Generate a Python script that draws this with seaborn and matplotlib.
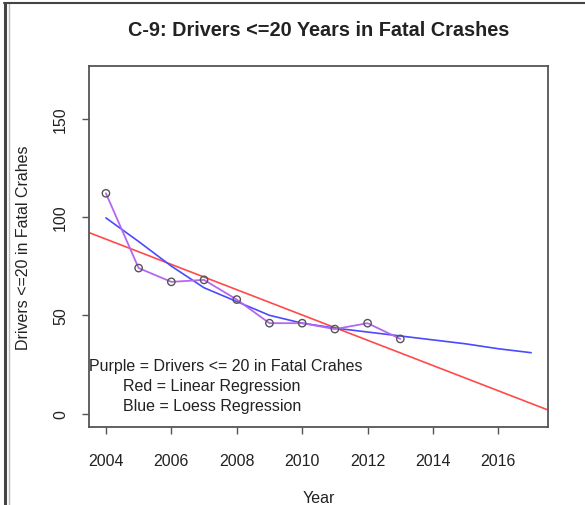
import numpy as np
import pandas as pd
import seaborn as sns
import matplotlib.pyplot as plt
from matplotlib.lines import Line2D

years = [2004, 2005, 2006, 2007, 2008, 2009, 2010, 2011, 2012, 2013]
drivers = [112, 74, 67, 68, 58, 46, 46, 43, 46, 38]

# loess curve (2004..2017)
loess_years = list(range(2004, 2018))
loess_vals = [99.5, 87.5, 75, 64, 57, 50, 46, 43.5, 41.5, 39.5, 37.5, 35.5, 33, 31]

x_ticks = [2004, 2006, 2008, 2010, 2012, 2014, 2016]
y_ticks = [0, 50, 100, 150]

df = pd.DataFrame({"Year": years, "Drivers": drivers})
lo = pd.DataFrame({"Year": loess_years, "Fit": loess_vals})

sns.set_style("white")
plt.rcParams["font.family"] = ["Liberation Sans", "DejaVu Sans"]

fig = plt.figure(figsize=(5.85, 5.06), dpi=100)
ax = fig.add_axes([0.152, 0.154, 0.785, 0.714])

ax.set_xlim(2003.48, 2017.52)
ax.set_ylim(-6.8, 176.8)

sns.regplot(data=df, x="Year", y="Drivers", ci=None, scatter=False,
            truncate=False, color="#ff4a4a", line_kws={"linewidth": 1.2}, ax=ax)
sns.lineplot(data=lo, x="Year", y="Fit", color="#4a4aff", linewidth=1.2, ax=ax)
sns.lineplot(data=df, x="Year", y="Drivers", color="#b468f0", linewidth=1.3, ax=ax)
ax.scatter(df["Year"], df["Drivers"], s=28, facecolors="none",
           edgecolors="#555555", linewidths=1, zorder=5)

ax.set_xlim(2003.48, 2017.52)
ax.set_ylim(-6.8, 176.8)
ax.set_xticks(x_ticks)
ax.set_yticks(y_ticks)
ax.set_yticklabels([str(v) for v in y_ticks], rotation=90, va="center")
ax.tick_params(axis="both", direction="out", length=5, width=1, color="#555555",
               labelsize=11.5, labelcolor="#222222", bottom=True, left=True)
ax.tick_params(axis="x", pad=13.8)
ax.tick_params(axis="y", pad=10)
for s in ax.spines.values():
    s.set_color("#555555")
    s.set_linewidth(1.3)

ax.set_xlabel("Year", fontsize=11.5, color="#222222", labelpad=15.8)
ax.set_ylabel("Drivers <=20 in Fatal Crahes", fontsize=11.5, color="#222222", labelpad=16)
ax.set_title("C-9: Drivers <=20 Years in Fatal Crashes", fontsize=14.3, fontweight="bold",
             color="#222222", pad=22)

ax.text(2003.48, 24.5, "Purple = Drivers <= 20 in Fatal Crahes", fontsize=11.5,
        color="#222222", va="center", ha="left")
ax.text(2004.52, 14.3, "Red = Linear Regression", fontsize=11.5,
        color="#222222", va="center", ha="left")
ax.text(2004.52, 4.1, "Blue = Loess Regression", fontsize=11.5,
        color="#222222", va="center", ha="left")

# screenshot frame
fig.add_artist(Line2D([0.008, 0.008], [0, 0.993], color="#444444", linewidth=2.2))
fig.add_artist(Line2D([0.016, 0.016], [0, 0.99], color="#bbbbbb", linewidth=1))
fig.add_artist(Line2D([0.006, 1], [0.992, 0.992], color="#444444", linewidth=1.5))

fig.savefig("out.png", dpi=100)
